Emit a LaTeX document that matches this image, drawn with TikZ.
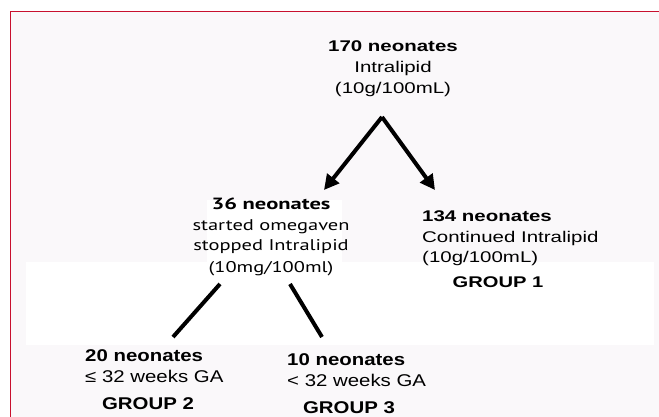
\documentclass[tikz,border=0pt]{standalone}
\usepackage{fontspec}
\setmainfont{Liberation Sans}
\newfontfamily\humsans{PT Sans}
\usetikzlibrary{arrows.meta}
\definecolor{bgpink}{RGB}{250,248,250}
\definecolor{framered}{RGB}{200,16,46}
\newcommand{\hblock}[3]{\scalebox{#1}[1]{\begin{tabular}[t]{@{}#2@{}}#3\end{tabular}}}
\begin{document}
\begin{tikzpicture}[x=1pt,y=-1pt,
  txt/.style={inner sep=0pt, anchor=base},
  conn/.style={line width=4pt, black},
  arr/.style={conn, -{Triangle[length=15pt,width=15pt]}}]
\useasboundingbox (0,0) rectangle (659,417);
\fill[white] (0,0) rectangle (659,417);
\fill[bgpink] (10,12) rectangle (659,417);
\fill[white] (26,262) rectangle (654,345);
\fill[white] (207,200) rectangle (342,262);
\draw[framered, line width=1pt] (10,417) -- (10,12) -- (659,12);

\node[txt, font=\fontsize{15.5}{21}\selectfont] (top) at (393,52)
  {\hblock{1.32}{c}{\textbf{170 neonates}\\Intralipid\\(10g/100mL)}};
\node[txt, font=\humsans\fontsize{15.5}{21}\selectfont] (mid) at (271,209)
  {\hblock{1.32}{c}{\scalebox{1.1}[1.05]{\textbf{36 neonates}}\\started omegaven\\stopped Intralipid\\(10mg/100ml)}};
\node[txt, anchor=base west, font=\fontsize{15.5}{20.5}\selectfont] (right) at (422,222)
  {\hblock{1.32}{l}{\textbf{134 neonates}\\Continued Intralipid\\(10g/100mL)}};
\node[txt, font=\bfseries\fontsize{15.5}{21}\selectfont] (g1) at (498,287) {\scalebox{1.3}[1]{GROUP 1}};
\node[txt, anchor=base west, font=\fontsize{17}{21}\selectfont] (b20) at (85,361)
  {\hblock{1.2}{l}{\textbf{20 neonates}\\≤ 32 weeks GA}};
\node[txt, font=\bfseries\fontsize{17}{21}\selectfont] (g2) at (148,409) {\scalebox{1.2}[1]{GROUP 2}};
\node[txt, anchor=base west, font=\fontsize{17}{21}\selectfont] (b10) at (287,365)
  {\hblock{1.2}{l}{\textbf{10 neonates}\\< 32 weeks GA}};
\node[txt, font=\bfseries\fontsize{17}{21}\selectfont] (g3) at (349,413) {\scalebox{1.2}[1]{GROUP 3}};

\coordinate (apex) at (382,117);
\coordinate (tipL) at (324,190);
\coordinate (tipR) at (435,190);
\coordinate (m1) at (220,284);
\coordinate (e1) at (173,337);
\coordinate (m2) at (290,284);
\coordinate (e2) at (322,337);
\draw[arr] (apex) -- (tipL);
\draw[arr] (apex) -- (tipR);
\draw[conn] (m1) -- (e1);
\draw[conn] (m2) -- (e2);
\end{tikzpicture}
\end{document}
